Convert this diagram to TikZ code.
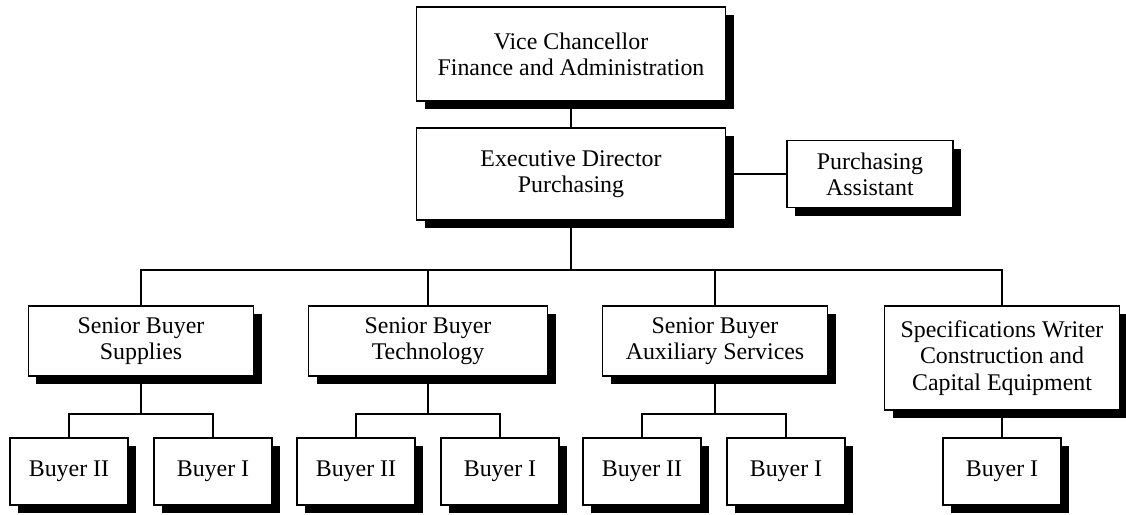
\documentclass[tikz,border=0pt]{standalone}
\usepackage{fontspec}
\setmainfont{Liberation Serif}
\usetikzlibrary{shadows}
\tikzset{
  post/.style={draw, line width=0.8pt, fill=white, align=center, inner sep=0pt,
    font=\fontsize{13.6}{14.9}\selectfont,
    drop shadow={shadow xshift=0.16cm, shadow yshift=-0.16cm, opacity=1, fill=black}},
  link/.style={draw, line width=0.6pt}
}
\begin{document}
\begin{tikzpicture}[x=0.02cm, y=-0.02cm]
\useasboundingbox (0,0) rectangle (1126,514);
% top of the chart
\node[post, minimum width=309*0.02cm, minimum height=94*0.02cm] (vc) at (571,54)
  {Vice Chancellor\\Finance and Administration};
\node[post, minimum width=309*0.02cm, minimum height=92*0.02cm] (ed) at (571,174)
  {Executive Director\\Purchasing};
\node[post, minimum width=166*0.02cm, minimum height=67*0.02cm] (pa) at (870,174)
  {Purchasing\\Assistant};
% senior buyers
\node[post, minimum width=225*0.02cm, minimum height=70*0.02cm] (sup) at (141,341)
  {Senior Buyer\\Supplies};
\node[post, minimum width=239*0.02cm, minimum height=70*0.02cm] (tech) at (428,341)
  {Senior Buyer\\Technology};
\node[post, minimum width=225*0.02cm, minimum height=70*0.02cm] (aux) at (715,341)
  {Senior Buyer\\Auxiliary Services};
\node[post, minimum width=235*0.02cm, minimum height=104*0.02cm] (spec) at (1002,358)
  {Specifications Writer\\Construction and\\Capital Equipment};
% buyers
\foreach \name/\xpos/\txt in {supA/69/Buyer II, supB/213/Buyer I,
    techA/356/Buyer II, techB/500/Buyer I,
    auxA/642/Buyer II, auxB/786/Buyer I, specA/1002/Buyer I}
  \node[post, minimum width=118*0.02cm, minimum height=67*0.02cm] (\name) at (\xpos,471.5) {\txt};
\coordinate (bus) at (0,270);
\coordinate (sub) at (0,414);
\draw[link] (vc.south) -- (ed.north);
\draw[link] (ed.east) -- (pa.west);
\foreach \s in {sup,tech,aux,spec}
  \draw[link] (ed.south) -- (ed.south |- bus) -| (\s.north);
\foreach \s in {sup,tech,aux}{
  \draw[link] (\s.south) -- (\s.south |- sub) -| (\s A.north);
  \draw[link] (\s.south) -- (\s.south |- sub) -| (\s B.north);
}
\draw[link] (spec.south) -- (specA.north);
\end{tikzpicture}
\end{document}
